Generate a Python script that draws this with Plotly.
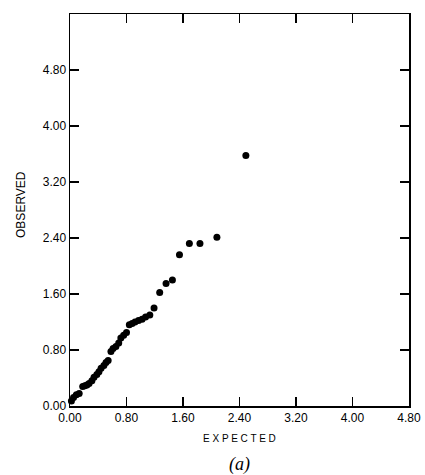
import plotly.graph_objects as go

expected = [0.02, 0.05, 0.09, 0.13, 0.18, 0.21, 0.24, 0.27, 0.31, 0.34, 0.38, 0.41,
            0.44, 0.48, 0.51, 0.54, 0.58, 0.61, 0.65, 0.69, 0.72, 0.76, 0.80, 0.84,
            0.88, 0.92, 0.97, 1.02, 1.07, 1.13, 1.19, 1.27, 1.36, 1.45, 1.55, 1.69,
            1.84, 2.08, 2.49]
observed = [0.07, 0.12, 0.16, 0.18, 0.28, 0.29, 0.30, 0.32, 0.36, 0.41, 0.45, 0.49,
            0.54, 0.58, 0.62, 0.65, 0.78, 0.82, 0.85, 0.90, 0.97, 1.01, 1.05, 1.16,
            1.18, 1.20, 1.22, 1.24, 1.27, 1.30, 1.40, 1.62, 1.75, 1.80, 2.16, 2.32,
            2.32, 2.41, 3.58]
tick_vals = [0.0, 0.8, 1.6, 2.4, 3.2, 4.0, 4.8]
tick_text = ["0.00", "0.80", "1.60", "2.40", "3.20", "4.00", "4.80"]

fig = go.Figure()
fig.add_trace(go.Scatter(x=expected, y=observed, mode="markers",
                         marker=dict(color="black", size=7), cliponaxis=False,
                         showlegend=False))

axis_common = dict(
    showgrid=False, zeroline=False, showline=True, linecolor="black", linewidth=1.5,
    mirror="ticks", ticks="inside", ticklen=9, tickwidth=1.2, tickcolor="black",
    tickvals=tick_vals, ticktext=tick_text, automargin=False,
    tickfont=dict(family="Liberation Sans, Arial, sans-serif", size=12, color="black"),
)
fig.update_xaxes(range=[0, 4.8], **axis_common)
fig.update_yaxes(range=[0, 5.6], **axis_common)

fig.add_annotation(text="E X P E C T E D", xref="paper", yref="paper", x=0.5, y=-0.082,
                   showarrow=False, yanchor="middle",
                   font=dict(family="Liberation Sans, Arial, sans-serif", size=10, color="black"))
fig.add_annotation(text="OBSERVED", xref="paper", yref="paper", x=-0.145, y=0.515,
                   showarrow=False, textangle=-90, xanchor="center", yanchor="middle",
                   font=dict(family="Liberation Sans, Arial, sans-serif", size=12, color="black"))
fig.add_annotation(text="<i>(a)</i>", xref="paper", yref="paper", x=0.5, y=-0.15,
                   showarrow=False, yanchor="middle",
                   font=dict(family="Liberation Serif, Times New Roman, serif", size=18, color="black"))

fig.update_layout(
    width=425, height=475,
    margin=dict(l=70, r=16, t=14, b=69),
    paper_bgcolor="white", plot_bgcolor="white",
    hovermode=False,
)
fig.write_html("out.html",
               config={"displayModeBar": False, "staticPlot": True},
               post_script="document.body.style.margin='0';document.body.style.overflow='hidden';")
